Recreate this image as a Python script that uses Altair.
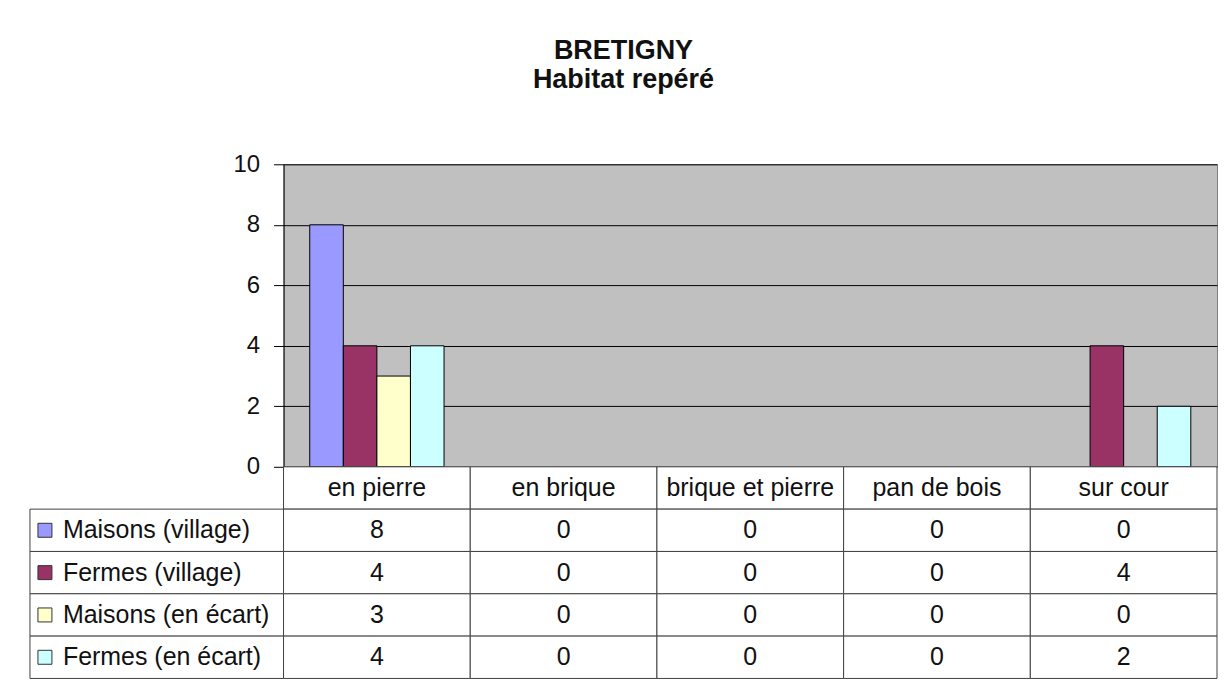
import altair as alt
import pandas as pd

categories = ["en pierre", "en brique", "brique et pierre", "pan de bois", "sur cour"]
series = ["Maisons (village)", "Fermes (village)", "Maisons (en écart)", "Fermes (en écart)"]
maisons_village = [8, 0, 0, 0, 0]
fermes_village = [4, 0, 0, 0, 4]
maisons_ecart = [3, 0, 0, 0, 0]
fermes_ecart = [4, 0, 0, 0, 2]
colors = ["#9999FF", "#993366", "#FFFFCC", "#CCFFFF"]
y_ticks = [0, 2, 4, 6, 8, 10]
title_lines = ["BRETIGNY", "Habitat repéré"]

values = [maisons_village, fermes_village, maisons_ecart, fermes_ecart]
rows = []
for s, vals in zip(series, values):
    for c, v in zip(categories, vals):
        rows.append({"category": c, "series": s, "value": v})
df = pd.DataFrame(rows)

HEADER = "header"
row_domain = [HEADER] + series
table_rows = [{"category": c, "row": HEADER, "label": c} for c in categories]
table_rows += [{"category": r["category"], "row": r["series"], "label": str(r["value"])} for r in rows]
table_df = pd.DataFrame(table_rows)
label_df = pd.DataFrame({"row": series, "series": series, "col": ["label"] * len(series)})

FONT = "Liberation Sans"
TXT = "#111111"
LINE = "#404040"
W_LEFT, W_PLOT, H_PLOT, H_TABLE = 254, 935, 303, 212

color_scale = alt.Scale(domain=series, range=colors)
x_scale = alt.Scale(domain=categories, paddingInner=0, paddingOuter=0)
y_row_scale = alt.Scale(domain=row_domain, paddingInner=0, paddingOuter=0)

spacer = alt.Chart(pd.DataFrame({"t": [""]})).mark_text().encode(
    text="t:N"
).properties(width=W_LEFT, height=H_PLOT, view=alt.ViewBackground(strokeOpacity=0))

bars = alt.Chart(df).transform_filter("datum.value > 0").mark_bar(
    stroke="black", strokeWidth=1
).encode(
    x=alt.X("category:N", scale=x_scale, axis=None),
    xOffset=alt.XOffset("series:N", scale=alt.Scale(domain=series, paddingInner=0, paddingOuter=0.78)),
    y=alt.Y("value:Q", scale=alt.Scale(domain=[0, 10], nice=False),
            axis=alt.Axis(values=y_ticks, title=None, grid=True, gridColor="black", gridWidth=1,
                          gridOpacity=1, tickColor="black", tickSize=10, domainColor="black",
                          labelFontSize=24, labelFont=FONT, labelColor=TXT, labelPadding=14)),
    color=alt.Color("series:N", scale=color_scale, legend=None),
).properties(width=W_PLOT, height=H_PLOT, view=alt.ViewBackground(fill="#C0C0C0", stroke="#808080"))

grid_base = alt.Chart(table_df).encode(
    x=alt.X("category:N", scale=x_scale, axis=None),
    y=alt.Y("row:N", scale=y_row_scale, axis=None),
)
grid_cells = grid_base.mark_rect(fill="white", stroke=LINE, strokeWidth=1)
grid_text = grid_base.mark_text(font=FONT, fontSize=25, color=TXT).encode(text="label:N")
grid = alt.layer(grid_cells, grid_text).properties(
    width=W_PLOT, height=H_TABLE, view=alt.ViewBackground(strokeOpacity=0))

lab_base = alt.Chart(label_df).encode(y=alt.Y("row:N", scale=y_row_scale, axis=None))
lab_cells = lab_base.mark_rect(fill="white", stroke=LINE, strokeWidth=1).encode(
    x=alt.X("col:N", axis=None, scale=alt.Scale(paddingInner=0, paddingOuter=0)))
lab_swatch = lab_base.mark_square(size=196, stroke="#333333", strokeWidth=1, opacity=1).encode(
    x=alt.value(15), fill=alt.Fill("series:N", scale=color_scale, legend=None))
lab_text = lab_base.mark_text(align="left", font=FONT, fontSize=25, color=TXT).encode(
    x=alt.value(33), text="series:N")
labels = alt.layer(lab_cells, lab_swatch, lab_text).properties(
    width=W_LEFT, height=H_TABLE, view=alt.ViewBackground(strokeOpacity=0))

chart = alt.concat(
    spacer, bars, labels, grid, columns=2, spacing=0, bounds="flush",
    title=alt.Title(title_lines, font=FONT, fontSize=27, fontWeight="bold", anchor="middle",
                    lineHeight=29, color=TXT, offset=58),
    padding={"left": 21, "top": 28, "right": 0, "bottom": 0},
).resolve_scale(color="independent", fill="independent")

chart.save("out.html", embed_options={"renderer": "svg", "actions": False})
